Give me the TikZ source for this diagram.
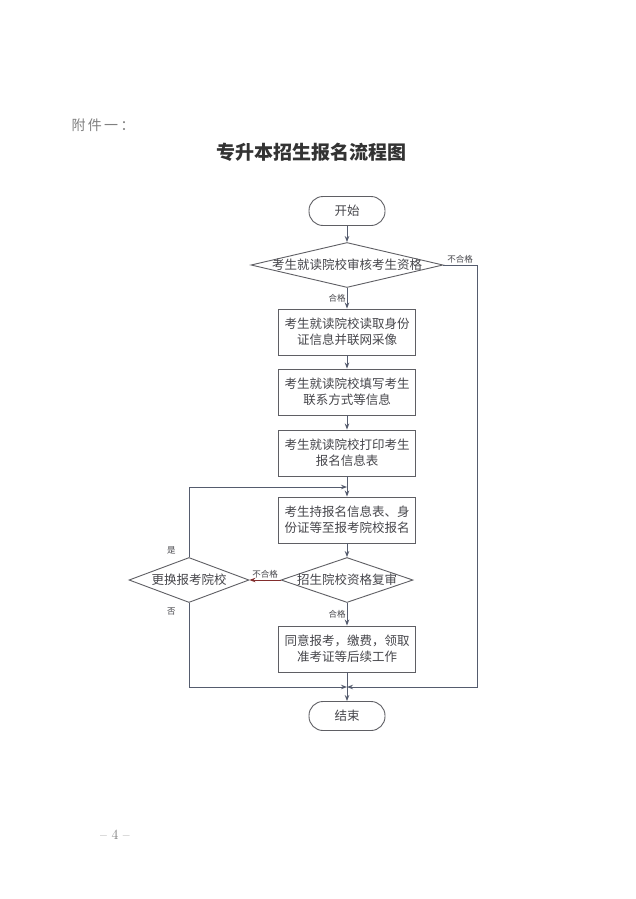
\documentclass[tikz,border=0pt]{standalone}
\usepackage{fontspec}
\newfontfamily\cjk{Noto Sans CJK SC}
\usepackage{xcolor}
\definecolor{linegray}{RGB}{85,92,110}
\definecolor{boxgray}{RGB}{95,95,100}
\definecolor{textgray}{RGB}{70,70,75}
\definecolor{nogored}{RGB}{130,45,45}
\usetikzlibrary{arrows.meta}
\usetikzlibrary{shapes.geometric}
\newcommand{\boxfont}{\cjk\fontsize{12.5}{16}\selectfont}
\newcommand{\tagfont}{\cjk\fontsize{8.5}{10}\selectfont}
\tikzset{
    common/.style={draw=boxgray, line width=0.9pt, text=textgray, font=\boxfont},
    terminal/.style={common, rectangle, rounded corners=14pt, minimum width=76, minimum height=29},
    stepbox/.style={common, rectangle, minimum width=137, minimum height=46, align=center, inner sep=0pt},
    decision/.style={common, diamond, inner sep=0pt, aspect=3},
    flow/.style={draw=linegray, line width=0.9pt, -{Stealth[length=6pt, width=4.5pt]}},
    tag/.style={font=\tagfont, text=textgray, inner sep=1pt}
}

\begin{document}
\begin{tikzpicture}[x=1pt, y=-1pt]
    \useasboundingbox[fill=white] (0,0) rectangle (636,899);

    \node[anchor=west, font=\cjk\fontsize{14}{14}\selectfont, text=gray] (annex) at (68,125) {附\,件\,一\,：};
    \node[font=\cjk\bfseries\fontsize{19}{19}\selectfont, text=black!80] (title) at (311,152) {专升本招生报名流程图};

    \node[terminal] (start) at (347,211) {开始};
    \node[decision, minimum width=192, minimum height=45] (check) at (347,265) {\makebox[0pt]{考生就读院校审核考生资格}};
    \node[stepbox] (readid) at (347,332) {考生就读院校读取身份\\证信息并联网采像};
    \node[stepbox] (fillin) at (347,392) {考生就读院校填写考生\\联系方式等信息};
    \node[stepbox] (printout) at (347,453) {考生就读院校打印考生\\报名信息表};
    \node[stepbox] (apply) at (347,520) {考生持报名信息表、身\\份证等至报考院校报名};
    \node[decision, minimum width=132, minimum height=45] (recheck) at (347,580) {\makebox[0pt]{招生院校资格复审}};
    \node[decision, minimum width=120, minimum height=45] (switch) at (189,580) {\makebox[0pt]{更换报考院校}};
    \node[stepbox] (admit) at (347,649) {同意报考，缴费，领取\\准考证等后续工作};
    \node[terminal] (finish) at (347,716) {结束};

    \coordinate (top-join) at (347,487);
    \coordinate (bottom-join) at (347,687);
    \coordinate (right-turn) at (477,265);

    \draw[flow] (start) -- (check);
    \draw[flow] (check) -- node[tag, left] {合格} (readid);
    \draw[flow] (readid) -- (fillin);
    \draw[flow] (fillin) -- (printout);
    \draw[flow] (printout) -- (apply);
    \draw[flow] (apply) -- (recheck);
    \draw[flow, draw=nogored] (recheck.west) -- node[tag, above] {不合格} (switch.east);
    \draw[flow] (recheck) -- node[tag, left] {合格} (admit);
    \draw[flow] (admit) -- (finish);
    \draw[flow] (switch.north) |- node[tag, pos=0.05, left=12pt] {是} (top-join);
    \draw[flow] (switch.south) |- node[tag, pos=0.05, left=12pt] {否} (bottom-join);
    \draw[flow] (check.east) -- node[tag, above] {不合格} (right-turn) |- (bottom-join);

    \node[font=\fontsize{14}{14}\selectfont, text=gray] (pageno) at (115,835) {-- 4 --};
\end{tikzpicture}
\end{document}
